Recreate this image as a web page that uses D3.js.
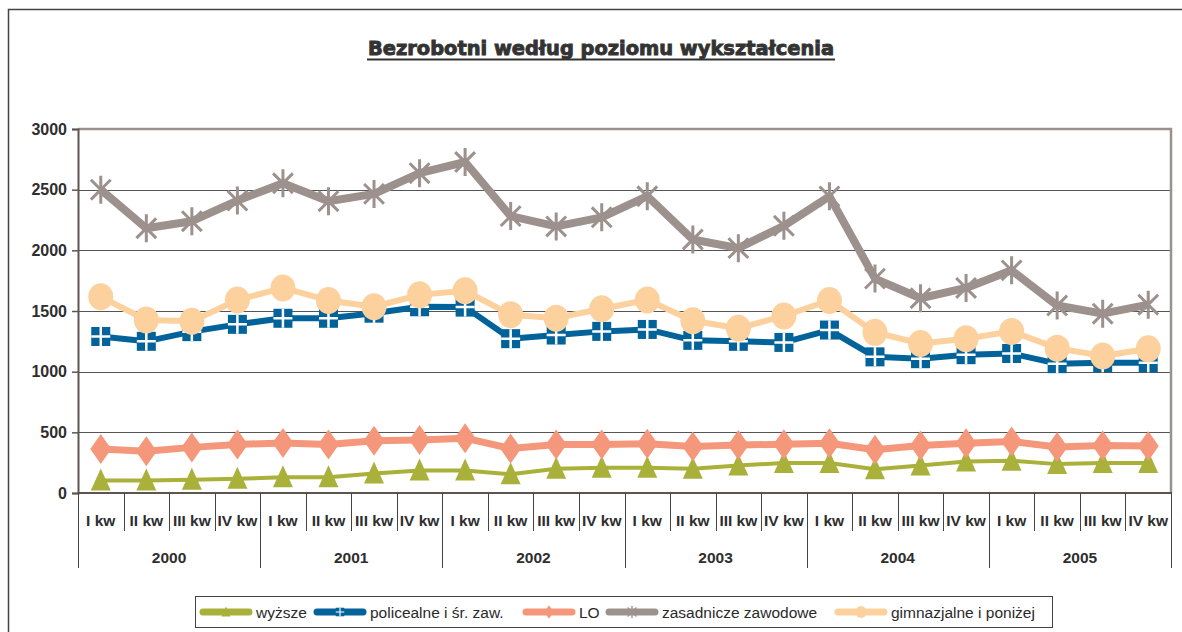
<!DOCTYPE html>
<html>
<head>
<meta charset="utf-8">
<script src="https://cdn.jsdelivr.net/npm/d3@7"></script>
<style>
  body { margin: 0; background: #fff; }
  svg { display: block; font-family: "Liberation Sans", Arial, sans-serif; }
</style>
</head>
<body>
<div id="chart"></div>
<script>
// Bezrobotni wg poziomu wykształcenia - kwartały 2000-2005

const years = ["2000", "2001", "2002", "2003", "2004", "2005"];
const quarters = ["I kw", "II kw", "III kw", "IV kw"];
const yTicks = [0, 500, 1000, 1500, 2000, 2500, 3000];

const wyzsze      = [103, 103, 110, 117, 130, 130, 160, 185, 185, 155, 200, 209, 209, 200, 227, 248, 248, 196, 226, 260, 266, 238, 248, 248];
const policealne  = [1290, 1250, 1330, 1390, 1440, 1440, 1482, 1535, 1532, 1272, 1302, 1332, 1348, 1258, 1250, 1241, 1343, 1122, 1107, 1140, 1150, 1066, 1074, 1074];
const lo          = [362, 344, 376, 400, 413, 400, 430, 437, 452, 366, 400, 400, 406, 383, 395, 402, 410, 357, 391, 410, 425, 379, 391, 388];
const zasadnicze  = [2500, 2182, 2240, 2410, 2553, 2405, 2465, 2636, 2728, 2282, 2197, 2272, 2446, 2089, 2018, 2202, 2445, 1767, 1605, 1690, 1835, 1545, 1478, 1552];
const gimnazjalne = [1617, 1426, 1415, 1591, 1690, 1587, 1535, 1633, 1667, 1470, 1441, 1519, 1591, 1419, 1358, 1459, 1587, 1324, 1232, 1272, 1332, 1194, 1129, 1189];

const seriesNames  = ["wyższe", "policealne i śr. zaw.", "LO", "zasadnicze zawodowe", "gimnazjalne i poniżej"];
const seriesColors = ["#a9b13a", "#02639a", "#f5977b", "#9d918e", "#fdd19e"];
const seriesWidths = [4, 6, 7, 8, 6];
const seriesShapes = ["triangle", "plusSquare", "diamond", "star", "circle"];
const seriesData   = [wyzsze, policealne, lo, zasadnicze, gimnazjalne];

const W = 1182, H = 632;
const plot = { left: 78, right: 1171, top: 129, bottom: 493 };

const categories = [];
years.forEach(y => quarters.forEach(q => categories.push(y + "|" + q)));

const svg = d3.select("#chart").append("svg")
  .attr("width", W).attr("height", H);

// outer frame
svg.append("path")
   .attr("d", `M8.5,${H + 2} L8.5,9.5 L${W + 2},9.5`)
   .attr("fill", "none").attr("stroke", "#444").attr("stroke-width", 1.5);

// title
svg.append("text")
   .attr("x", 601).attr("y", 55)
   .attr("text-anchor", "middle")
   .attr("font-family", "'DejaVu Sans', sans-serif")
   .attr("font-weight", "bold")
   .attr("font-size", 19)
   .attr("fill", "#333").attr("stroke", "#333").attr("stroke-width", 0.9)
   .attr("textLength", 466).attr("lengthAdjust", "spacingAndGlyphs")
   .text("Bezrobotni według poziomu wykształcenia");
svg.append("line")
   .attr("x1", 367).attr("x2", 835).attr("y1", 59.5).attr("y2", 59.5)
   .attr("stroke", "#333").attr("stroke-width", 2);

// --- Scales ---
const x = d3.scaleBand().domain(categories).range([plot.left, plot.right]).padding(0);
const y = d3.scaleLinear().domain([0, 3000]).range([plot.bottom, plot.top]);
const cx = d => x(d) + x.bandwidth() / 2;

// gridlines
svg.append("g")
   .selectAll("line")
   .data(yTicks.filter(t => t > 0 && t < 3000))
   .enter().append("line")
   .attr("x1", plot.left).attr("x2", plot.right)
   .attr("y1", d => Math.round(y(d)) + 0.5).attr("y2", d => Math.round(y(d)) + 0.5)
   .attr("stroke", "#555").attr("stroke-width", 1);

// plot frame (top & right)
svg.append("path")
   .attr("d", `M${plot.left},${plot.top} L${plot.right},${plot.top} L${plot.right},${plot.bottom}`)
   .attr("fill", "none").attr("stroke", "#9d918e").attr("stroke-width", 2.5);

// --- Y axis ---
const yAxis = svg.append("g")
   .attr("transform", `translate(${plot.left},0)`)
   .call(d3.axisLeft(y).tickValues(yTicks).tickSize(6).tickPadding(5).tickFormat(d3.format("d")));
yAxis.select(".domain").attr("stroke", "#5e5553").attr("stroke-width", 2);
yAxis.selectAll(".tick line").attr("stroke", "#5e5553").attr("stroke-width", 1.5);
yAxis.selectAll(".tick text")
     .attr("font-size", 16).attr("font-weight", "bold").attr("fill", "#2e2e2e")
     .attr("font-family", "'Liberation Sans', Arial, sans-serif");

// --- X axis (two levels) ---
const xg = svg.append("g");
xg.append("line")
  .attr("x1", plot.left).attr("x2", plot.right + 1)
  .attr("y1", plot.bottom).attr("y2", plot.bottom)
  .attr("stroke", "#5e5553").attr("stroke-width", 2);

// quarter separators
xg.selectAll(".qsep")
  .data(categories.filter((d, i) => i % 4 !== 0))
  .enter().append("line")
  .attr("x1", d => Math.round(x(d)) + 0.5).attr("x2", d => Math.round(x(d)) + 0.5)
  .attr("y1", plot.bottom).attr("y2", 531)
  .attr("stroke", "#444").attr("stroke-width", 1);

// year separators
const yearEdges = years.map(yr => x(yr + "|I kw")).concat([plot.right]);
xg.selectAll(".ysep")
  .data(yearEdges)
  .enter().append("line")
  .attr("x1", d => Math.round(d) + 0.5).attr("x2", d => Math.round(d) + 0.5)
  .attr("y1", plot.bottom).attr("y2", 568)
  .attr("stroke", "#444").attr("stroke-width", 1);

xg.selectAll(".qlab")
  .data(categories)
  .enter().append("text")
  .attr("x", d => cx(d)).attr("y", 525.5)
  .attr("text-anchor", "middle")
  .attr("font-size", 15.5).attr("font-weight", "bold").attr("fill", "#2e2e2e")
  .text(d => d.split("|")[1]);

xg.selectAll(".ylab")
  .data(years)
  .enter().append("text")
  .attr("x", d => x(d + "|I kw") + x.bandwidth() * 2).attr("y", 562.5)
  .attr("text-anchor", "middle")
  .attr("font-size", 15.5).attr("font-weight", "bold").attr("fill", "#2e2e2e")
  .text(d => d);

// --- Markers ---
function drawMarker(g, shape, color, s) {
  if (shape === "triangle") {
    g.append("path").attr("d", `M0,${-12 * s} L${10 * s},${10 * s} L${-10 * s},${10 * s} Z`).attr("fill", color);
  } else if (shape === "plusSquare") {
    g.append("rect").attr("x", -9.5 * s).attr("y", -9.5 * s).attr("width", 19 * s).attr("height", 19 * s).attr("fill", color);
    g.append("path").attr("d", `M${-9.5 * s},0 L${9.5 * s},0 M0,${-9.5 * s} L0,${9.5 * s}`)
     .attr("stroke", "#fff").attr("stroke-width", 2.5 * s);
  } else if (shape === "diamond") {
    g.append("path").attr("d", `M0,${-15 * s} L${10.5 * s},0 L0,${15 * s} L${-10.5 * s},0 Z`).attr("fill", color);
  } else if (shape === "star") {
    const r = 14 * s;
    const a = r * Math.cos(Math.PI / 4);
    g.append("path")
     .attr("d", `M${-a},${-a} L${a},${a} M${-a},${a} L${a},${-a} M0,${-r} L0,${r}`)
     .attr("stroke", color).attr("stroke-width", 3 * s).attr("fill", "none");
  } else if (shape === "circle") {
    g.append("ellipse").attr("rx", 12.5 * s).attr("ry", 13.5 * s).attr("fill", color);
  }
}

// --- Series ---
const line = d3.line().x((d, i) => cx(categories[i])).y(d => y(d));

seriesData.forEach((vals, k) => {
  const g = svg.append("g");
  g.append("path")
   .datum(vals)
   .attr("d", line)
   .attr("fill", "none")
   .attr("stroke", seriesColors[k])
   .attr("stroke-width", seriesWidths[k])
   .attr("stroke-linejoin", "round");
  vals.forEach((v, i) => {
    const m = g.append("g").attr("transform", `translate(${cx(categories[i])},${y(v)})`);
    drawMarker(m, seriesShapes[k], seriesColors[k], 1);
  });
});

// --- Legend ---
const legendX = [199, 313, 522, 605, 834];
const legend = svg.append("g");
legend.append("rect")
   .attr("x", 195.5).attr("y", 596.5).attr("width", 857).attr("height", 31)
   .attr("fill", "#fff").attr("stroke", "#444").attr("stroke-width", 1);

seriesNames.forEach((name, k) => {
  const lx = legendX[k];
  const ly = 612;
  legend.append("line")
     .attr("x1", lx + 4).attr("x2", lx + 50).attr("y1", ly).attr("y2", ly)
     .attr("stroke", seriesColors[k]).attr("stroke-width", 7).attr("stroke-linecap", "round");
  const m = legend.append("g").attr("transform", `translate(${lx + 27},${ly})`);
  drawMarker(m, seriesShapes[k], seriesColors[k], 0.45);
  legend.append("text")
     .attr("x", lx + 57).attr("y", ly + 5.5)
     .attr("font-size", 15.5).attr("fill", "#2a2a2a")
     .text(name);
});
</script>
</body>
</html>
